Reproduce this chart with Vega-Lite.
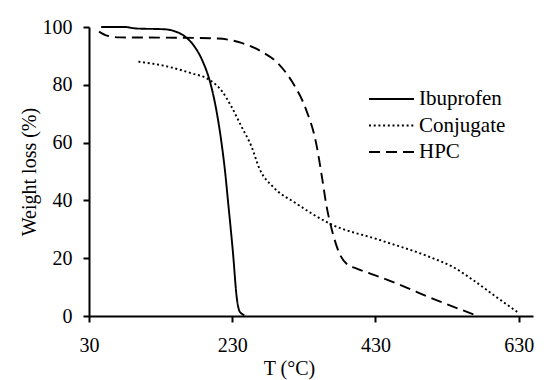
{
  "$schema": "https://vega.github.io/schema/vega-lite/v6.json",
  "width": 444,
  "height": 289,
  "autosize": {"type": "none"},
  "padding": {"left": 89, "top": 27, "right": 26, "bottom": 64},
  "background": "white",
  "config": {
    "font": "Liberation Serif",
    "view": {"stroke": null},
    "axis": {
      "grid": false,
      "domainColor": "black",
      "domainWidth": 2,
      "tickColor": "black",
      "tickWidth": 2,
      "tickSize": 6,
      "labelFont": "Liberation Serif",
      "labelFontSize": 20,
      "labelColor": "black",
      "titleFont": "Liberation Serif",
      "titleFontSize": 20,
      "titleFontWeight": "normal",
      "titleColor": "black"
    },
    "legend": {"labelFont": "Liberation Serif"}
  },
  "data": {
    "values": [
      {"T": 47, "W": 100, "series": "Ibuprofen"},
      {"T": 80, "W": 100, "series": "Ibuprofen"},
      {"T": 95, "W": 99.5, "series": "Ibuprofen"},
      {"T": 136, "W": 99.2, "series": "Ibuprofen"},
      {"T": 150, "W": 98.5, "series": "Ibuprofen"},
      {"T": 164, "W": 96.7, "series": "Ibuprofen"},
      {"T": 178, "W": 93, "series": "Ibuprofen"},
      {"T": 189, "W": 88, "series": "Ibuprofen"},
      {"T": 199, "W": 81, "series": "Ibuprofen"},
      {"T": 208, "W": 71, "series": "Ibuprofen"},
      {"T": 215, "W": 60, "series": "Ibuprofen"},
      {"T": 220, "W": 50, "series": "Ibuprofen"},
      {"T": 224, "W": 40, "series": "Ibuprofen"},
      {"T": 231, "W": 22, "series": "Ibuprofen"},
      {"T": 236.5, "W": 6, "series": "Ibuprofen"},
      {"T": 240.5, "W": 1.5, "series": "Ibuprofen"},
      {"T": 247, "W": 0.3, "series": "Ibuprofen"},
      {"T": 99, "W": 88, "series": "Conjugate"},
      {"T": 140, "W": 86.3, "series": "Conjugate"},
      {"T": 173, "W": 84, "series": "Conjugate"},
      {"T": 196, "W": 82, "series": "Conjugate"},
      {"T": 215, "W": 78, "series": "Conjugate"},
      {"T": 229, "W": 72.4, "series": "Conjugate"},
      {"T": 243, "W": 65.5, "series": "Conjugate"},
      {"T": 257, "W": 58.6, "series": "Conjugate"},
      {"T": 268, "W": 51, "series": "Conjugate"},
      {"T": 287, "W": 44.7, "series": "Conjugate"},
      {"T": 319, "W": 39, "series": "Conjugate"},
      {"T": 366, "W": 32, "series": "Conjugate"},
      {"T": 436, "W": 26.3, "series": "Conjugate"},
      {"T": 505, "W": 20.5, "series": "Conjugate"},
      {"T": 538, "W": 17, "series": "Conjugate"},
      {"T": 566, "W": 12.5, "series": "Conjugate"},
      {"T": 598, "W": 6.7, "series": "Conjugate"},
      {"T": 631, "W": 0.9, "series": "Conjugate"},
      {"T": 44, "W": 98.4, "series": "HPC"},
      {"T": 55, "W": 97, "series": "HPC"},
      {"T": 73, "W": 96.4, "series": "HPC"},
      {"T": 150, "W": 96.3, "series": "HPC"},
      {"T": 210, "W": 96, "series": "HPC"},
      {"T": 243, "W": 94.5, "series": "HPC"},
      {"T": 271, "W": 91.5, "series": "HPC"},
      {"T": 294, "W": 87.4, "series": "HPC"},
      {"T": 315, "W": 80.5, "series": "HPC"},
      {"T": 333, "W": 71.5, "series": "HPC"},
      {"T": 347, "W": 60, "series": "HPC"},
      {"T": 356, "W": 47, "series": "HPC"},
      {"T": 361, "W": 39, "series": "HPC"},
      {"T": 370, "W": 29, "series": "HPC"},
      {"T": 380, "W": 21.5, "series": "HPC"},
      {"T": 390, "W": 18, "series": "HPC"},
      {"T": 403, "W": 16.5, "series": "HPC"},
      {"T": 436, "W": 13.5, "series": "HPC"},
      {"T": 459, "W": 11.3, "series": "HPC"},
      {"T": 515, "W": 5.5, "series": "HPC"},
      {"T": 570, "W": 0.3, "series": "HPC"}
    ]
  },
  "mark": {"type": "line", "color": "black", "strokeWidth": 1.9, "interpolate": "monotone"},
  "encoding": {
    "x": {
      "field": "T",
      "type": "quantitative",
      "scale": {"domain": [30, 650], "nice": false, "zero": false},
      "axis": {
        "values": [30, 230, 430, 630],
        "title": "T (°C)",
        "labelFont": "Liberation Serif",
        "titleFont": "Liberation Serif",
        "labelPadding": 13,
        "labelFlush": false,
        "titleX": 200,
        "titleY": 58,
        "titleAlign": "center",
        "titleBaseline": "alphabetic"
      }
    },
    "y": {
      "field": "W",
      "type": "quantitative",
      "scale": {"domain": [0, 100], "nice": false},
      "axis": {
        "values": [0, 20, 40, 60, 80, 100],
        "title": "Weight loss (%)",
        "labelFont": "Liberation Serif",
        "titleFont": "Liberation Serif",
        "labelPadding": 11,
        "labelFlush": false,
        "titlePadding": 3
      }
    },
    "strokeDash": {
      "field": "series",
      "type": "nominal",
      "scale": {
        "domain": ["Ibuprofen", "Conjugate", "HPC"],
        "range": [[1, 0], [2, 2.7], [11, 6]]
      },
      "legend": {
        "title": null,
        "orient": "none",
        "legendX": 286.5,
        "legendY": 56,
        "padding": 0,
        "symbolType": "M-1.5,0H1.5",
        "symbolSize": 900,
        "symbolStrokeWidth": 1.9,
        "symbolStrokeColor": "black",
        "symbolFillColor": "transparent",
        "labelFont": "Liberation Serif",
        "labelFontSize": 21,
        "labelColor": "black",
        "labelOffset": 11.5,
        "rowPadding": 0.5
      }
    }
  }
}
